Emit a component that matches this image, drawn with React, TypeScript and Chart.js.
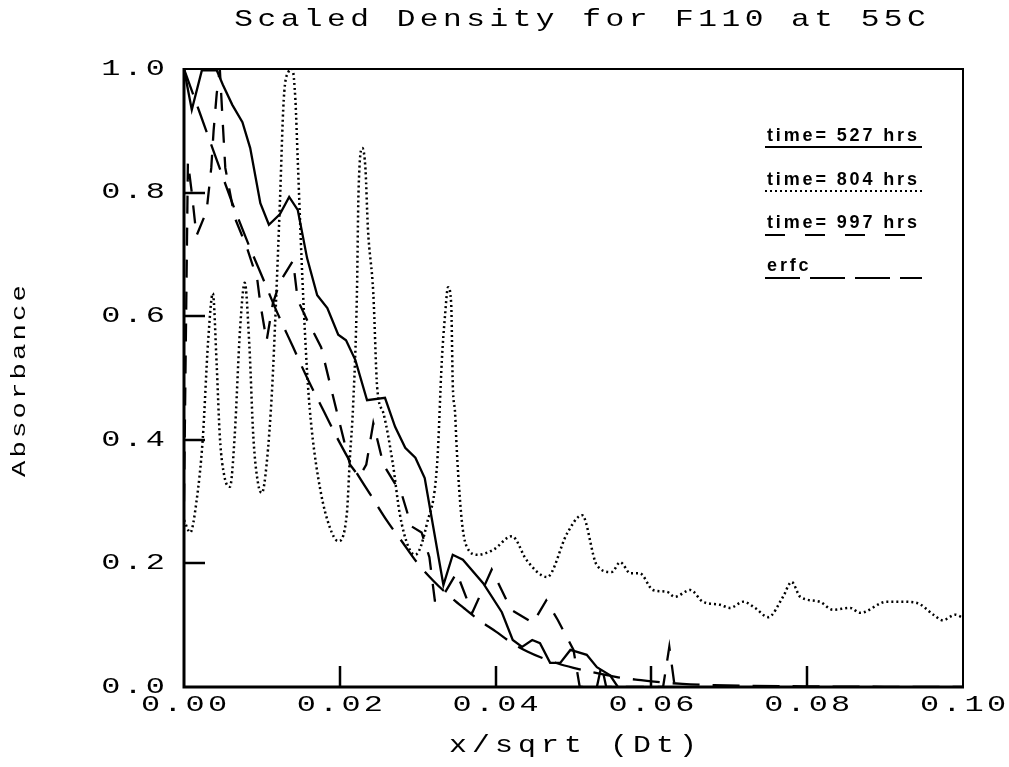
import React, { useEffect, useRef } from 'react';
import { Chart, registerables } from 'chart.js';

Chart.register(...registerables);

const TITLE = 'Scaled Density for F110 at 55C';
const X_TITLE = 'x/sqrt (Dt)';
const Y_TITLE = 'Absorbance';
const X_TICKS = [0, 0.02, 0.04, 0.06, 0.08, 0.1];
const X_TICK_LABELS = ['0.00', '0.02', '0.04', '0.06', '0.08', '0.10'];
const Y_TICKS = [0, 0.2, 0.4, 0.6, 0.8, 1.0];
const Y_TICK_LABELS = ['0.0', '0.2', '0.4', '0.6', '0.8', '1.0'];
const LEGEND_LABELS = ['time= 527 hrs', 'time= 804 hrs', 'time= 997 hrs', 'erfc'];

// time = 527 hrs (solid)
const X527 = [0, 0.001, 0.0023, 0.0042, 0.005, 0.0062, 0.0075, 0.0085, 0.0098, 0.0109, 0.0123, 0.0135, 0.0146, 0.0158, 0.0171, 0.0184, 0.0198, 0.0208, 0.022, 0.0235, 0.0258, 0.0271, 0.0284, 0.0297, 0.0309, 0.0333, 0.0345, 0.0358, 0.0384, 0.0408, 0.0422, 0.0434, 0.0447, 0.0457, 0.047, 0.0483, 0.0496, 0.0517, 0.053, 0.0547, 0.0557];
const Y527 = [1.0, 0.934, 0.998, 0.998, 0.974, 0.942, 0.914, 0.872, 0.783, 0.748, 0.765, 0.793, 0.772, 0.694, 0.634, 0.613, 0.57, 0.561, 0.529, 0.464, 0.468, 0.421, 0.387, 0.371, 0.338, 0.165, 0.214, 0.206, 0.168, 0.121, 0.076, 0.065, 0.076, 0.071, 0.039, 0.039, 0.06, 0.052, 0.032, 0.019, 0.0];

// time = 804 hrs (dotted)
const X804 = [0, 0.0008, 0.0016, 0.0024, 0.0031, 0.0037, 0.0042, 0.0046, 0.0052, 0.0059, 0.0065, 0.0072, 0.0078, 0.0084, 0.0089, 0.0095, 0.01, 0.0106, 0.0113, 0.0118, 0.0123, 0.0128, 0.0134, 0.0139, 0.0143, 0.0146, 0.0151, 0.0155, 0.0159, 0.0164, 0.0175, 0.0187, 0.0198, 0.0209, 0.0213, 0.0217, 0.0222, 0.0224, 0.0229, 0.0233, 0.0236, 0.0243, 0.0248, 0.0256, 0.0268, 0.0277, 0.0288, 0.0297, 0.0312, 0.0325, 0.0331, 0.0335, 0.0339, 0.0343, 0.0345, 0.0348, 0.035, 0.0354, 0.0358, 0.0363, 0.0377, 0.0397, 0.0421, 0.044, 0.0466, 0.0492, 0.0511, 0.053, 0.0549, 0.056, 0.0573, 0.0585, 0.0602, 0.062, 0.063, 0.065, 0.0666, 0.0688, 0.0701, 0.0718, 0.0733, 0.075, 0.0769, 0.078, 0.0791, 0.0816, 0.0833, 0.0855, 0.0868, 0.0902, 0.0923, 0.0941, 0.0962, 0.0974, 0.099, 0.1];
const Y804 = [0.27, 0.25, 0.3, 0.4, 0.56, 0.637, 0.52, 0.405, 0.34, 0.324, 0.405, 0.58, 0.654, 0.55, 0.405, 0.33, 0.314, 0.36, 0.48, 0.62, 0.78, 0.95, 0.995, 1.0, 0.95, 0.853, 0.69, 0.58, 0.49, 0.416, 0.319, 0.259, 0.236, 0.28, 0.372, 0.453, 0.637, 0.8, 0.872, 0.837, 0.744, 0.637, 0.484, 0.443, 0.362, 0.28, 0.227, 0.214, 0.265, 0.362, 0.529, 0.6, 0.647, 0.62, 0.49, 0.443, 0.388, 0.307, 0.254, 0.227, 0.214, 0.222, 0.244, 0.205, 0.178, 0.249, 0.278, 0.197, 0.186, 0.202, 0.184, 0.184, 0.157, 0.154, 0.146, 0.157, 0.138, 0.133, 0.128, 0.138, 0.128, 0.113, 0.146, 0.17, 0.146, 0.138, 0.125, 0.128, 0.12, 0.138, 0.138, 0.136, 0.117, 0.108, 0.117, 0.112];

// time = 997 hrs (dashed)
const X997 = [0, 0.0005, 0.001, 0.0016, 0.0029, 0.0035, 0.0038, 0.0042, 0.0046, 0.0049, 0.0053, 0.0065, 0.0081, 0.0094, 0.0098, 0.0106, 0.0114, 0.0123, 0.014, 0.0146, 0.0158, 0.0176, 0.0191, 0.0213, 0.0225, 0.0234, 0.0243, 0.0256, 0.028, 0.0292, 0.0305, 0.0315, 0.0322, 0.0329, 0.035, 0.037, 0.0395, 0.042, 0.0448, 0.0465, 0.048, 0.05, 0.0508, 0.053, 0.0536, 0.0542, 0.0615, 0.0623, 0.063];
const Y997 = [0.3, 0.85, 0.8, 0.73, 0.77, 0.84, 0.9, 0.96, 1.0, 0.93, 0.84, 0.76, 0.71, 0.66, 0.62, 0.56, 0.62, 0.655, 0.69, 0.626, 0.594, 0.55, 0.472, 0.36, 0.34, 0.36, 0.427, 0.36, 0.31, 0.26, 0.25, 0.21, 0.14, 0.14, 0.185, 0.12, 0.19, 0.125, 0.104, 0.14, 0.108, 0.06, 0.0, 0.0, 0.035, 0.0, 0.0, 0.065, 0.0];

// erfc (long dashes)
const XERF = [0, 0.002, 0.004, 0.006, 0.008, 0.01, 0.012, 0.014, 0.016, 0.018, 0.02, 0.022, 0.024, 0.026, 0.028, 0.03, 0.032, 0.034, 0.036, 0.038, 0.04, 0.042, 0.044, 0.046, 0.048, 0.05, 0.052, 0.054, 0.056, 0.058, 0.06, 0.064, 0.068, 0.072, 0.08, 0.09, 0.1];
const YERF = [1.0, 0.93, 0.86, 0.79, 0.725, 0.665, 0.605, 0.55, 0.495, 0.445, 0.395, 0.35, 0.31, 0.27, 0.235, 0.2, 0.172, 0.148, 0.127, 0.107, 0.09, 0.072, 0.058, 0.047, 0.038, 0.031, 0.025, 0.02, 0.015, 0.012, 0.009, 0.005, 0.003, 0.002, 0.001, 0.0003, 0];

const DASHES: number[][] = [[], [2, 3], [18, 14], [27, 13]];

const pts = (xs: number[], ys: number[]) => xs.map((x, i) => ({ x, y: ys[i] }));

const MONO = '"Liberation Mono"';

function drawSpaced(ctx: CanvasRenderingContext2D, text: string, x: number, y: number, align: 'left' | 'center' | 'right', size: number, sx: number, cell: number) {
  ctx.save();
  ctx.font = `${size}px ${MONO}`;
  const adv = ctx.measureText('0').width;
  const ls = cell / sx - adv;
  const n = text.length;
  const w = (n - 1) * cell + adv * sx;
  let x0 = x;
  if (align === 'center') x0 = x - w / 2;
  else if (align === 'right') x0 = x - w;
  (ctx as any).letterSpacing = `${ls}px`;
  ctx.textAlign = 'left';
  ctx.textBaseline = 'middle';
  ctx.fillStyle = '#000';
  ctx.translate(x0, y);
  ctx.scale(sx, 1);
  ctx.fillText(text, 0, 0);
  ctx.restore();
}

const framePlugin = {
  id: 'frame',
  afterDatasetsDraw(chart: any) {
    const ctx: CanvasRenderingContext2D = chart.ctx;
    const { left, top, right, bottom } = chart.chartArea;
    const xs = chart.scales.x;
    const ys = chart.scales.y;
    ctx.save();
    ctx.strokeStyle = '#000';
    ctx.setLineDash([]);
    ctx.lineWidth = 2;
    ctx.beginPath();
    ctx.moveTo(left, top);
    ctx.lineTo(right, top);
    ctx.lineTo(right, bottom);
    ctx.stroke();
    ctx.lineWidth = 3;
    ctx.beginPath();
    ctx.moveTo(left, top - 1);
    ctx.lineTo(left, bottom);
    ctx.lineTo(right + 1, bottom);
    ctx.stroke();
    ctx.lineWidth = 2.5;
    Y_TICKS.forEach((v) => {
      if (v <= 0 || v >= 1) return;
      const py = Math.round(ys.getPixelForValue(v));
      ctx.beginPath();
      ctx.moveTo(left, py);
      ctx.lineTo(left + 21, py);
      ctx.stroke();
    });
    X_TICKS.forEach((v) => {
      if (v <= 0 || v >= 0.1) return;
      const px = Math.round(xs.getPixelForValue(v));
      ctx.beginPath();
      ctx.moveTo(px, bottom);
      ctx.lineTo(px, bottom - 21);
      ctx.stroke();
    });
    ctx.restore();

    Y_TICKS.forEach((v, i) => {
      drawSpaced(ctx, Y_TICK_LABELS[i], 165, ys.getPixelForValue(v), 'right', 22, 1.45, 22.3);
    });
    X_TICKS.forEach((v, i) => {
      drawSpaced(ctx, X_TICK_LABELS[i], xs.getPixelForValue(v), 705, 'center', 22, 1.45, 22.3);
    });
    drawSpaced(ctx, TITLE, 580, 20, 'center', 24, 1.3, 23.2);
    drawSpaced(ctx, X_TITLE, 573, 746, 'center', 23, 1.3, 23);
    ctx.save();
    ctx.translate(19, 381);
    ctx.rotate(-Math.PI / 2);
    drawSpaced(ctx, Y_TITLE, 0, 0, 'center', 21, 1.3, 19.5);
    ctx.restore();

    const baselines = [141, 185, 228, 271];
    const unders = [147, 191, 235, 278];
    ctx.save();
    ctx.font = 'bold 18px "Liberation Sans"';
    const ref = ctx.measureText(LEGEND_LABELS[0]).width;
    const lsp = (150 - ref) / (LEGEND_LABELS[0].length - 1);
    (ctx as any).letterSpacing = `${lsp}px`;
    ctx.fillStyle = '#000';
    ctx.textAlign = 'left';
    ctx.textBaseline = 'alphabetic';
    LEGEND_LABELS.forEach((t, i) => {
      ctx.fillText(t, 767, baselines[i]);
      ctx.strokeStyle = '#000';
      ctx.lineWidth = 2;
      ctx.setLineDash(i === 2 ? [20, 20] : i === 3 ? [35, 10] : DASHES[i]);
      ctx.beginPath();
      ctx.moveTo(765, unders[i]);
      ctx.lineTo(922, unders[i]);
      ctx.stroke();
    });
    ctx.restore();
  },
};

export default function App() {
  const ref = useRef<HTMLCanvasElement | null>(null);
  useEffect(() => {
    if (!ref.current) return;
    const base = {
      borderColor: '#000',
      borderWidth: 2.3,
      pointRadius: 0,
      fill: false,
    };
    const chart = new Chart(ref.current, {
      type: 'line',
      data: {
        datasets: [
          { ...base, label: LEGEND_LABELS[0], data: pts(X527, Y527), borderDash: DASHES[0], tension: 0 },
          { ...base, label: LEGEND_LABELS[1], data: pts(X804, Y804), borderDash: DASHES[1], borderWidth: 2.5, cubicInterpolationMode: 'monotone' },
          { ...base, label: LEGEND_LABELS[2], data: pts(X997, Y997), borderDash: DASHES[2], tension: 0 },
          { ...base, label: LEGEND_LABELS[3], data: pts(XERF, YERF), borderDash: DASHES[3], cubicInterpolationMode: 'monotone' },
        ] as any,
      },
      options: {
        animation: false,
        responsive: false,
        maintainAspectRatio: false,
        devicePixelRatio: 1,
        layout: { padding: { left: 184, top: 69, right: 46, bottom: 80 } },
        scales: {
          x: { type: 'linear', min: 0, max: 0.1, display: false },
          y: { type: 'linear', min: 0, max: 1, display: false },
        },
        plugins: {
          legend: { display: false },
          title: { display: false },
          tooltip: { enabled: false },
        },
        events: [],
      },
      plugins: [framePlugin],
    });
    return () => chart.destroy();
  }, []);
  return (
    <div style={{ position: 'fixed', left: 0, top: 0, width: 1009, height: 767, background: '#fff' }}>
      <canvas ref={ref} width={1009} height={767} style={{ display: 'block' }} />
    </div>
  );
}
